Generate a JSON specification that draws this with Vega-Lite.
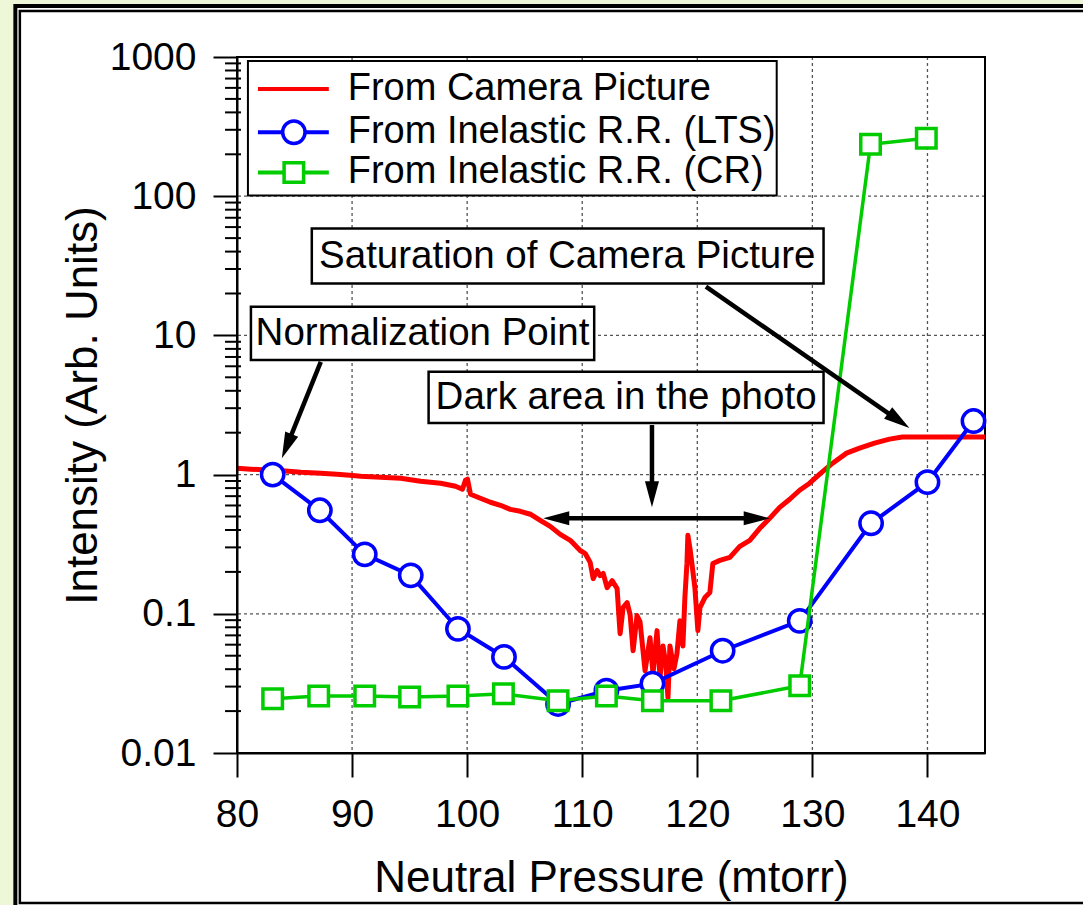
{
 "$schema": "https://vega.github.io/schema/vega-lite/v6.json",
 "width": 748,
 "height": 696,
 "autosize": "none",
 "padding": {"left": 237, "top": 57, "right": 98, "bottom": 152},
 "background": "#eef7d8",
 "config": {"view": {"stroke": null}, "font": "Liberation Sans"},
 "datasets": {
  "frameOuter": [{"x": 60.74, "x2": 170, "y": 0.0004, "y2": 2324}],
  "frameInner": [{"x": 61.13, "x2": 170, "y": 0.000836, "y2": 2140}],
  "gridX": [{"x": 90}, {"x": 100}, {"x": 110}, {"x": 120}, {"x": 130}, {"x": 140}],
  "gridY": [{"y": 0.1}, {"y": 1}, {"y": 10}, {"y": 100}],
  "border": [{"x": 80, "x2": 145, "y": 0.01, "y2": 1000}],
  "minor": [
   {"y": 0.02}, {"y": 0.03}, {"y": 0.04}, {"y": 0.05}, {"y": 0.06}, {"y": 0.07}, {"y": 0.08}, {"y": 0.09},
   {"y": 0.2}, {"y": 0.3}, {"y": 0.4}, {"y": 0.5}, {"y": 0.6}, {"y": 0.7}, {"y": 0.8}, {"y": 0.9},
   {"y": 2}, {"y": 3}, {"y": 4}, {"y": 5}, {"y": 6}, {"y": 7}, {"y": 8}, {"y": 9},
   {"y": 20}, {"y": 30}, {"y": 40}, {"y": 50}, {"y": 60}, {"y": 70}, {"y": 80}, {"y": 90},
   {"y": 200}, {"y": 300}, {"y": 400}, {"y": 500}, {"y": 600}, {"y": 700}, {"y": 800}, {"y": 900}
  ],
  "camera": [
   {"x": 80.00, "y": 1.112}, {"x": 81.21, "y": 1.094}, {"x": 82.95, "y": 1.076}, {"x": 84.2, "y": 1.062}, {"x": 85.55, "y": 1.041},
   {"x": 87.28, "y": 1.024}, {"x": 88.67, "y": 1.007}, {"x": 89.8, "y": 0.99}, {"x": 90.75, "y": 0.974}, {"x": 92.48, "y": 0.958},
   {"x": 94.22, "y": 0.942}, {"x": 95.95, "y": 0.896}, {"x": 97.69, "y": 0.867}, {"x": 98.99, "y": 0.825},
   {"x": 99.59, "y": 0.785}, {"x": 99.85, "y": 0.911}, {"x": 100.03, "y": 0.927}, {"x": 100.29, "y": 0.723},
   {"x": 101.15, "y": 0.676}, {"x": 102.02, "y": 0.633}, {"x": 102.89, "y": 0.602}, {"x": 103.75, "y": 0.563},
   {"x": 104.62, "y": 0.545}, {"x": 105.49, "y": 0.519}, {"x": 106.35, "y": 0.469}, {"x": 107.22, "y": 0.425},
   {"x": 108.09, "y": 0.372}, {"x": 108.96, "y": 0.337}, {"x": 109.82, "y": 0.285}, {"x": 110.26, "y": 0.271},
   {"x": 110.69, "y": 0.234}, {"x": 110.95, "y": 0.179}, {"x": 111.30, "y": 0.205}, {"x": 111.56, "y": 0.188},
   {"x": 111.82, "y": 0.195}, {"x": 112.16, "y": 0.154}, {"x": 112.60, "y": 0.173}, {"x": 113.03, "y": 0.152},
   {"x": 113.29, "y": 0.072}, {"x": 113.55, "y": 0.1109}, {"x": 113.90, "y": 0.1204}, {"x": 114.16, "y": 0.0987},
   {"x": 114.42, "y": 0.0543}, {"x": 114.76, "y": 0.0971}, {"x": 115.02, "y": 0.0879}, {"x": 115.46, "y": 0.039},
   {"x": 115.89, "y": 0.0674}, {"x": 116.15, "y": 0.0371}, {"x": 116.50, "y": 0.0757}, {"x": 116.76, "y": 0.0347},
   {"x": 117.02, "y": 0.0587}, {"x": 117.28, "y": 0.0423}, {"x": 117.45, "y": 0.0249}, {"x": 117.62, "y": 0.0587},
   {"x": 117.97, "y": 0.0403}, {"x": 118.23, "y": 0.0517}, {"x": 118.49, "y": 0.0893}, {"x": 118.75, "y": 0.0587},
   {"x": 118.92, "y": 0.1308}, {"x": 119.10, "y": 0.230}, {"x": 119.18, "y": 0.366}, {"x": 119.36, "y": 0.295},
   {"x": 119.53, "y": 0.230}, {"x": 119.79, "y": 0.154}, {"x": 120.05, "y": 0.0757}, {"x": 120.23, "y": 0.1109},
   {"x": 120.66, "y": 0.1308}, {"x": 121.09, "y": 0.142}, {"x": 121.35, "y": 0.230}, {"x": 121.96, "y": 0.242},
   {"x": 122.83, "y": 0.254}, {"x": 123.69, "y": 0.305}, {"x": 124.56, "y": 0.337}, {"x": 125.43, "y": 0.411},
   {"x": 126.29, "y": 0.485}, {"x": 127.16, "y": 0.582}, {"x": 128.03, "y": 0.665}, {"x": 128.89, "y": 0.772},
   {"x": 129.76, "y": 0.867}, {"x": 130.63, "y": 1.007}, {"x": 131.76, "y": 1.208}, {"x": 132.97, "y": 1.426},
   {"x": 134.10, "y": 1.550}, {"x": 135.40, "y": 1.684}, {"x": 136.70, "y": 1.799}, {"x": 137.82, "y": 1.860},
   {"x": 139.30, "y": 1.860}, {"x": 141.90, "y": 1.860}, {"x": 145.00, "y": 1.860}
  ],
  "lts": [
   {"x": 83.1, "y": 1.0}, {"x": 87.2, "y": 0.554}, {"x": 91.1, "y": 0.267}, {"x": 95.1, "y": 0.189},
   {"x": 99.2, "y": 0.078}, {"x": 103.2, "y": 0.049}, {"x": 107.9, "y": 0.0225}, {"x": 112.1, "y": 0.028},
   {"x": 116.1, "y": 0.0315}, {"x": 122.2, "y": 0.0543}, {"x": 128.9, "y": 0.089}, {"x": 135.1, "y": 0.447},
   {"x": 140.0, "y": 0.882}, {"x": 144.0, "y": 2.425}
  ],
  "cr": [
   {"x": 83.1, "y": 0.0245}, {"x": 87.1, "y": 0.0257}, {"x": 91.1, "y": 0.0257}, {"x": 95.0, "y": 0.0253},
   {"x": 99.2, "y": 0.0257}, {"x": 103.15, "y": 0.0266}, {"x": 107.9, "y": 0.0237}, {"x": 112.1, "y": 0.0257},
   {"x": 116.1, "y": 0.0237}, {"x": 122.05, "y": 0.0237}, {"x": 128.9, "y": 0.0304}, {"x": 135.05, "y": 236},
   {"x": 139.9, "y": 261}
  ],
  "legendBox": [{"x": 80.95, "x2": 126.9, "y": 101, "y2": 935}],
  "legend": [
   {"series": "cam", "x": 81.82, "x2": 87.98, "mx": 84.94, "tx": 89.62, "y": 588, "label": "From Camera Picture"},
   {"series": "lts", "x": 81.82, "x2": 87.98, "mx": 84.94, "tx": 89.62, "y": 288, "label": "From Inelastic R.R. (LTS)"},
   {"series": "cr", "x": 81.82, "x2": 87.98, "mx": 84.94, "tx": 89.62, "y": 148, "label": "From Inelastic R.R. (CR)"}
  ],
  "boxes": [
   {"x": 86.5, "x2": 130.97, "y": 23.6, "y2": 58.6, "tx": 108.7, "ty": 37.1, "label": "Saturation of Camera Picture"},
   {"x": 81.21, "x2": 111.04, "y": 6.67, "y2": 16.07, "tx": 96.12, "ty": 10.36, "label": "Normalization Point"},
   {"x": 96.65, "x2": 130.97, "y": 2.345, "y2": 5.47, "tx": 113.81, "ty": 3.58, "label": "Dark area in the photo"}
  ],
  "arrows": [
   {"x": 87.28, "y": 6.45, "x2": 84.33, "y2": 1.602},
   {"x": 120.75, "y": 22.4, "x2": 137.51, "y2": 2.445},
   {"x": 116.06, "y": 2.27, "x2": 116.06, "y2": 0.7225},
   {"x": 107.74, "y": 0.485, "x2": 125.17, "y2": 0.485}
  ],
  "heads": [
   {"id": "norm", "x": 83.9, "y": 1.313},
   {"id": "sat", "x": 138.43, "y": 2.159},
   {"id": "down", "x": 116.06, "y": 0.582},
   {"id": "left", "x": 106.61, "y": 0.485},
   {"id": "right", "x": 126.29, "y": 0.485}
  ]
 },
 "layer": [
  {
   "data": {"name": "frameOuter"},
   "mark": {"type": "rect", "fill": "white", "stroke": "black", "strokeWidth": 4},
   "encoding": {
    "x": {"field": "x", "type": "quantitative",
     "scale": {"domain": [80, 145], "nice": false, "zero": false},
     "axis": {"values": [80, 90, 100, 110, 120, 130, 140], "title": "Neutral Pressure (mtorr)", "grid": false,
      "tickSize": 24, "tickWidth": 2, "tickColor": "black", "domainColor": "black", "domainWidth": 2,
      "labelFontSize": 39, "labelColor": "black", "labelPadding": 18, "labelFlush": false, "labelOverlap": false,
      "titleFontSize": 44, "titleFontWeight": "normal", "titleColor": "black", "titlePadding": 22, "zindex": 1}},
    "x2": {"field": "x2"},
    "y": {"field": "y", "type": "quantitative",
     "scale": {"type": "log", "domain": [0.01, 1000], "nice": false},
     "axis": {"values": [0.01, 0.1, 1, 10, 100, 1000], "labelExpr": "'' + datum.value", "title": "Intensity (Arb. Units)", "grid": false,
      "tickSize": 24, "tickWidth": 2, "tickColor": "black", "domainColor": "black", "domainWidth": 2,
      "labelFontSize": 39, "labelColor": "black", "labelPadding": 17, "labelFlush": false, "labelOverlap": false,
      "titleFontSize": 44, "titleFontWeight": "normal", "titleColor": "black", "titlePadding": 4, "zindex": 1}},
    "y2": {"field": "y2"}
   }
  },
  {
   "data": {"name": "frameInner"},
   "mark": {"type": "rect", "filled": false, "stroke": "black", "strokeWidth": 2.5},
   "encoding": {
    "x": {"field": "x", "type": "quantitative"}, "x2": {"field": "x2"},
    "y": {"field": "y", "type": "quantitative", "scale": {"type": "log"}}, "y2": {"field": "y2"}
   }
  },
  {
   "data": {"name": "gridX"},
   "mark": {"type": "rule", "color": "#555555", "strokeWidth": 1.3, "strokeDash": [3, 3]},
   "encoding": {"x": {"field": "x", "type": "quantitative"}}
  },
  {
   "data": {"name": "gridY"},
   "mark": {"type": "rule", "color": "#555555", "strokeWidth": 1.3, "strokeDash": [3, 3]},
   "encoding": {"y": {"field": "y", "type": "quantitative", "scale": {"type": "log"}}}
  },
  {
   "data": {"name": "border"},
   "mark": {"type": "rect", "filled": false, "stroke": "black", "strokeWidth": 2},
   "encoding": {
    "x": {"field": "x", "type": "quantitative"}, "x2": {"field": "x2"},
    "y": {"field": "y", "type": "quantitative", "scale": {"type": "log"}}, "y2": {"field": "y2"}
   }
  },
  {
   "data": {"name": "minor"},
   "mark": {"type": "rule", "color": "black", "strokeWidth": 2},
   "encoding": {
    "x": {"datum": 78.96, "type": "quantitative"}, "x2": {"datum": 80.35},
    "y": {"field": "y", "type": "quantitative", "scale": {"type": "log"}}
   }
  },
  {
   "data": {"name": "camera"},
   "mark": {"type": "line", "color": "#ff0000", "strokeWidth": 5, "strokeJoin": "round"},
   "encoding": {
    "x": {"field": "x", "type": "quantitative"},
    "y": {"field": "y", "type": "quantitative", "scale": {"type": "log"}}
   }
  },
  {
   "data": {"name": "lts"},
   "mark": {"type": "line", "color": "#0000ff", "strokeWidth": 4},
   "encoding": {
    "x": {"field": "x", "type": "quantitative"},
    "y": {"field": "y", "type": "quantitative", "scale": {"type": "log"}}
   }
  },
  {
   "data": {"name": "lts"},
   "mark": {"type": "point", "shape": "circle", "filled": true, "fill": "white", "stroke": "#0000ff", "strokeWidth": 3.5, "size": 500, "opacity": 1},
   "encoding": {
    "x": {"field": "x", "type": "quantitative"},
    "y": {"field": "y", "type": "quantitative", "scale": {"type": "log"}}
   }
  },
  {
   "data": {"name": "cr"},
   "mark": {"type": "line", "color": "#00cc00", "strokeWidth": 3.5},
   "encoding": {
    "x": {"field": "x", "type": "quantitative"},
    "y": {"field": "y", "type": "quantitative", "scale": {"type": "log"}}
   }
  },
  {
   "data": {"name": "cr"},
   "mark": {"type": "point", "shape": "square", "filled": true, "fill": "white", "stroke": "#00cc00", "strokeWidth": 3.5, "size": 380, "opacity": 1},
   "encoding": {
    "x": {"field": "x", "type": "quantitative"},
    "y": {"field": "y", "type": "quantitative", "scale": {"type": "log"}}
   }
  },
  {
   "data": {"name": "legendBox"},
   "mark": {"type": "rect", "fill": "white", "stroke": "black", "strokeWidth": 2},
   "encoding": {
    "x": {"field": "x", "type": "quantitative"}, "x2": {"field": "x2"},
    "y": {"field": "y", "type": "quantitative", "scale": {"type": "log"}}, "y2": {"field": "y2"}
   }
  },
  {
   "data": {"name": "legend"},
   "mark": {"type": "rule", "strokeWidth": 4},
   "encoding": {
    "x": {"field": "x", "type": "quantitative"}, "x2": {"field": "x2"},
    "y": {"field": "y", "type": "quantitative", "scale": {"type": "log"}},
    "color": {"field": "series", "type": "nominal", "scale": {"domain": ["cam", "lts", "cr"], "range": ["#ff0000", "#0000ff", "#00cc00"]}, "legend": null}
   }
  },
  {
   "data": {"name": "legend"},
   "transform": [{"filter": "datum.series === 'lts'"}],
   "mark": {"type": "point", "shape": "circle", "filled": true, "fill": "white", "stroke": "#0000ff", "strokeWidth": 3.5, "size": 500, "opacity": 1},
   "encoding": {
    "x": {"field": "mx", "type": "quantitative"},
    "y": {"field": "y", "type": "quantitative", "scale": {"type": "log"}}
   }
  },
  {
   "data": {"name": "legend"},
   "transform": [{"filter": "datum.series === 'cr'"}],
   "mark": {"type": "point", "shape": "square", "filled": true, "fill": "white", "stroke": "#00cc00", "strokeWidth": 3.5, "size": 380, "opacity": 1},
   "encoding": {
    "x": {"field": "mx", "type": "quantitative"},
    "y": {"field": "y", "type": "quantitative", "scale": {"type": "log"}}
   }
  },
  {
   "data": {"name": "legend"},
   "mark": {"type": "text", "align": "left", "baseline": "middle", "fontSize": 38, "color": "black"},
   "encoding": {
    "x": {"field": "tx", "type": "quantitative"},
    "y": {"field": "y", "type": "quantitative", "scale": {"type": "log"}},
    "text": {"field": "label"}
   }
  },
  {
   "data": {"name": "boxes"},
   "mark": {"type": "rect", "fill": "white", "stroke": "black", "strokeWidth": 2.5},
   "encoding": {
    "x": {"field": "x", "type": "quantitative"}, "x2": {"field": "x2"},
    "y": {"field": "y", "type": "quantitative", "scale": {"type": "log"}}, "y2": {"field": "y2"}
   }
  },
  {
   "data": {"name": "boxes"},
   "mark": {"type": "text", "align": "center", "baseline": "middle", "fontSize": 38.5, "color": "black"},
   "encoding": {
    "x": {"field": "tx", "type": "quantitative"},
    "y": {"field": "ty", "type": "quantitative", "scale": {"type": "log"}},
    "text": {"field": "label"}
   }
  },
  {
   "data": {"name": "arrows"},
   "mark": {"type": "rule", "color": "black", "strokeWidth": 4.5},
   "encoding": {
    "x": {"field": "x", "type": "quantitative"}, "x2": {"field": "x2"},
    "y": {"field": "y", "type": "quantitative", "scale": {"type": "log"}}, "y2": {"field": "y2"}
   }
  },
  {
   "data": {"name": "heads"},
   "transform": [{"filter": "datum.id === 'norm'"}],
   "mark": {"type": "point", "shape": "M0,0L-0.27,1L0.27,1Z", "filled": true, "color": "black", "opacity": 1, "size": 2704, "angle": 202.1},
   "encoding": {
    "x": {"field": "x", "type": "quantitative"},
    "y": {"field": "y", "type": "quantitative", "scale": {"type": "log"}}
   }
  },
  {
   "data": {"name": "heads"},
   "transform": [{"filter": "datum.id === 'sat'"}],
   "mark": {"type": "point", "shape": "M0,0L-0.27,1L0.27,1Z", "filled": true, "color": "black", "opacity": 1, "size": 2704, "angle": 125.2},
   "encoding": {
    "x": {"field": "x", "type": "quantitative"},
    "y": {"field": "y", "type": "quantitative", "scale": {"type": "log"}}
   }
  },
  {
   "data": {"name": "heads"},
   "transform": [{"filter": "datum.id === 'down'"}],
   "mark": {"type": "point", "shape": "M0,0L-0.27,1L0.27,1Z", "filled": true, "color": "black", "opacity": 1, "size": 2704, "angle": 180},
   "encoding": {
    "x": {"field": "x", "type": "quantitative"},
    "y": {"field": "y", "type": "quantitative", "scale": {"type": "log"}}
   }
  },
  {
   "data": {"name": "heads"},
   "transform": [{"filter": "datum.id === 'left'"}],
   "mark": {"type": "point", "shape": "M0,0L-0.27,1L0.27,1Z", "filled": true, "color": "black", "opacity": 1, "size": 2704, "angle": 270},
   "encoding": {
    "x": {"field": "x", "type": "quantitative"},
    "y": {"field": "y", "type": "quantitative", "scale": {"type": "log"}}
   }
  },
  {
   "data": {"name": "heads"},
   "transform": [{"filter": "datum.id === 'right'"}],
   "mark": {"type": "point", "shape": "M0,0L-0.27,1L0.27,1Z", "filled": true, "color": "black", "opacity": 1, "size": 2704, "angle": 90},
   "encoding": {
    "x": {"field": "x", "type": "quantitative"},
    "y": {"field": "y", "type": "quantitative", "scale": {"type": "log"}}
   }
  }
 ]
}
